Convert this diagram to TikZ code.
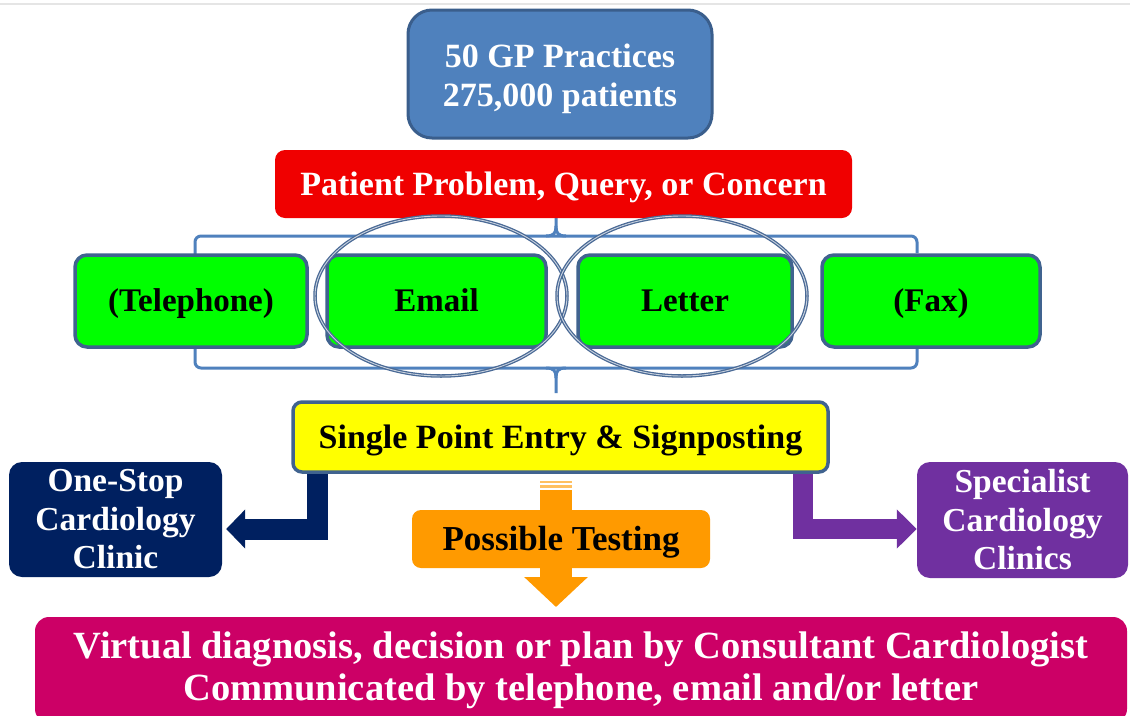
\documentclass[tikz,border=0pt]{standalone}
\usepackage{fontspec}
\setmainfont{Liberation Serif}
\usetikzlibrary{shapes.geometric,arrows.meta,calc}
\definecolor{topfill}{HTML}{4F81BD}
\definecolor{topborder}{HTML}{3A5E8C}
\definecolor{redc}{HTML}{F00000}
\definecolor{greenc}{HTML}{00FF00}
\definecolor{boxborder}{HTML}{40638F}
\definecolor{yellowc}{HTML}{FFFF00}
\definecolor{navyc}{HTML}{002060}
\definecolor{purplec}{HTML}{7030A0}
\definecolor{orangec}{HTML}{FF9A00}
\definecolor{orangelight}{HTML}{FFC060}
\definecolor{magentac}{HTML}{CC0066}
\definecolor{bracec}{HTML}{4F81BD}
\definecolor{ringc}{HTML}{4A6A96}
\pgfdeclarelayer{bg}
\pgfsetlayers{bg,main}
\begin{document}
\begin{tikzpicture}[x=1pt,y=-1pt,
  rbox/.style={rectangle, inner sep=0pt, align=center, font=\bfseries},
  oneline/.style={text height=#1, text depth=0pt},
  greenbox/.style={rbox, oneline=21.8pt, fill=greenc, draw=boxborder, line width=3.5pt, rounded corners=12pt,
    minimum height=92pt, font=\bfseries\fontsize{33}{38}\selectfont},
  sidebox/.style={rbox, rounded corners=13pt, text=white, minimum height=115pt,
    font=\bfseries\fontsize{33.5}{38.5}\selectfont},
  ring/.style={ellipse, draw=ringc, line width=1.3pt, double=ringc!30!white, double distance=0.9pt,
    minimum width=252pt, minimum height=160pt, inner sep=0pt},
  brace/.style={draw=bracec, line width=3pt},
  blockarrow/.style={line width=#1}
]
\useasboundingbox (0,0) rectangle (1130,715);
\clip (0,0) rectangle (1130,715);

% top box
\node[rbox, fill=topfill, draw=topborder, line width=3pt, rounded corners=24pt,
  minimum width=304pt, minimum height=128pt] (gp) at (560,74) {};
\node[rbox, text=white, font=\bfseries\fontsize{34}{40}\selectfont] (gptext) at ($(gp)+(0,5)$)
  {50 GP Practices\\[-1pt]275,000 patients};

% red box
\node[rbox, oneline=22.4pt, fill=redc, rounded corners=10pt, minimum width=577pt, minimum height=68pt,
  text=white, font=\bfseries\fontsize{34}{40}\selectfont] (prob) at (563.5,184) {Patient Problem, Query, or Concern};

% green boxes
\node[greenbox, minimum width=232pt] (tel) at (191,301) {(Telephone)};
\node[greenbox, minimum width=219pt] (email) at (436.5,301) {Email};
\node[greenbox, minimum width=214pt] (letter) at (685,301) {Letter};
\node[greenbox, minimum width=218pt] (fax) at (931,301) {(Fax)};

% rings
\node[ring] (emailring) at ($(email)+(4.5,-5)$) {};
\node[ring, minimum width=250pt] (letterring) at ($(letter)+(-3,-5)$) {};

% signposting
\node[rbox, oneline=22.4pt, fill=yellowc, draw=boxborder, line width=3.5pt, rounded corners=9pt,
  minimum width=535pt, minimum height=70pt, font=\bfseries\fontsize{34}{40}\selectfont] (spe) at (560.5,437) {Single Point Entry \& Signposting};

% side boxes
\node[sidebox, fill=navyc, minimum width=213pt] (onestop) at (115.5,519.5) {One-Stop\\Cardiology\\Clinic};
\node[sidebox, fill=purplec, minimum width=211pt, minimum height=116pt] (spec) at (1022.5,520) {Specialist\\Cardiology\\Clinics};

% possible testing
\coordinate (otop) at (556,490);
\coordinate (otip) at (556,607);
\node[rbox, oneline=23pt, fill=orangec, rounded corners=9pt, minimum width=298pt, minimum height=58pt,
  font=\bfseries\fontsize{35}{40}\selectfont] (test) at (561,539) {Possible Testing};

% bottom box
\node[rbox, fill=magentac, rounded corners=14pt, minimum width=1092pt, minimum height=106pt,
  text=white, font=\bfseries\fontsize{38.5}{42}\selectfont] (virt) at (581,670)
  {Virtual diagnosis, decision or plan by Consultant Cardiologist\\Communicated by telephone, email and/or letter};

\begin{pgfonlayer}{bg}
  \fill[white] (0,0) rectangle (1130,715);
  \draw[black!10, line width=1.5pt] (0,4) -- (1130,4);
  % braces
  \draw[brace, rounded corners=6pt] (195,258) -- (195,236) -- (917,236) -- (917,253);
  \draw[brace] (546,236) .. controls (554,236) and (556,233) .. (556,226) -- (556,217);
  \draw[brace] (566,236) .. controls (558,236) and (556,233) .. (556,226);
  \draw[brace, rounded corners=6pt] (195,343) -- (195,368) -- (917,368) -- (917,343);
  \draw[brace] (546,368) .. controls (554,368) and (556,371) .. (556,378) -- (556,393);
  \draw[brace] (566,368) .. controls (558,368) and (556,371) .. (556,378);
  % block arrows
  \draw[navyc, blockarrow=21pt, -{Triangle[width=38pt,length=19pt]}]
    ($(spe.south west)+(26,0)$) |- ($(onestop.east)+(4,9.5)$);
  \draw[purplec, blockarrow=20pt, -{Triangle[width=38pt,length=20pt]}]
    ($(spe.south east)+(-26.5,0)$) |- ($(spec.west)+(0,9)$);
  \draw[orangec, blockarrow=32pt, -{Triangle[width=62pt,length=30pt]}] (otop) -- (otip);
  \fill[orangelight] ($(otop)+(-16,-9)$) rectangle ($(otop)+(16,-7)$);
  \fill[orangelight] ($(otop)+(-16,-5)$) rectangle ($(otop)+(16,-2)$);
\end{pgfonlayer}
\end{tikzpicture}
\end{document}
